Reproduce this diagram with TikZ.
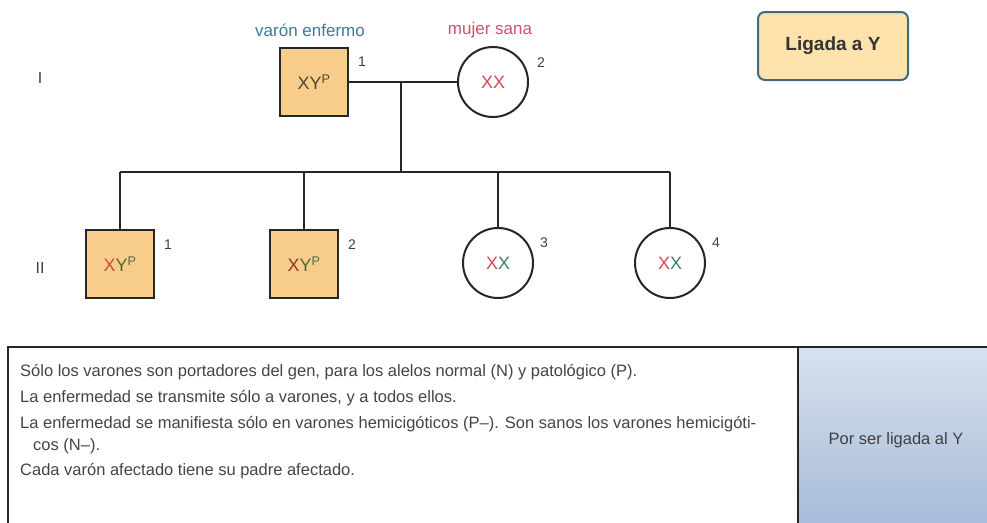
\documentclass[tikz,border=0pt]{standalone}
\usepackage{fontspec}
\setmainfont{Liberation Sans}
\definecolor{sqfill}{HTML}{F8CD8C}
\definecolor{momred}{HTML}{D9475A}
\definecolor{dadcol}{HTML}{4A4A30}
\definecolor{sonX}{HTML}{D04A3A}
\definecolor{sonY}{HTML}{4F6A3A}
\definecolor{dauX}{HTML}{3F7F66}
\definecolor{teal}{HTML}{3D7A9A}
\definecolor{pinklab}{HTML}{D0506A}
\definecolor{boxfill}{HTML}{FDE2AC}
\definecolor{boxborder}{HTML}{3F6A80}
\definecolor{celltop}{HTML}{D8E0ED}
\definecolor{cellbot}{HTML}{A6BCD8}
\definecolor{txt}{HTML}{444444}
\begin{document}
\begin{tikzpicture}[x=1pt,y=-1pt,
  male/.style={draw=black!85,line width=2pt,fill=sqfill,minimum size=68pt,inner sep=0pt,font=\fontsize{18}{18}\selectfont},
  female/.style={draw=black!85,line width=2pt,fill=white,circle,minimum size=70pt,inner sep=0pt,font=\fontsize{18}{18}\selectfont},
  num/.style={font=\fontsize{14}{14}\selectfont,text=black!75},
  gen/.style={font=\fontsize{16}{16}\selectfont,text=black!75},
  ped/.style={line width=1.8pt,draw=black!85},
  line/.style={anchor=west,font=\fontsize{16.5}{16.5}\selectfont,text=txt,inner sep=0pt}]
\useasboundingbox (0,0) rectangle (987,522);
% generation labels
\node[gen] (gI) at (40,78) {I};
\node[gen] (gII) at (40,268) {II};
% generation I
\node[male] (f) at (314,82) {\textcolor{dadcol}{XY$^{\mathrm{P}}$}};
\node[female] (m) at (493,82) {\textcolor{momred}{XX}};
\node[font=\fontsize{17}{17}\selectfont,text=teal] (lf) at (310,30) {varón enfermo};
\node[font=\fontsize{17}{17}\selectfont,text=pinklab] (lm) at (490,30) {mujer sana};
\node[num] (n1) at (362,62) {1};
\node[num] (n2) at (541,63) {2};
\coordinate (mid) at (401,82);
\coordinate (sib) at (401,172);
\coordinate (sl) at (120,172);
\coordinate (sr) at (670,172);
\draw[ped] (f.east) -- (m.west);
\draw[ped] (mid) -- (sib);
\draw[ped] (sl) -- (sr);
% generation II
\node[male] (c1) at (120,264) {\textcolor{sonX}{X}\textcolor{sonY}{Y$^{\mathrm{P}}$}};
\node[male] (c2) at (304,264) {\textcolor{sonX!70!black}{X}\textcolor{sonY}{Y$^{\mathrm{P}}$}};
\node[female] (c3) at (498,263) {\textcolor{momred}{X}\textcolor{dauX}{X}};
\node[female] (c4) at (670,263) {\textcolor{momred}{X}\textcolor{dauX}{X}};
\node[num] (m1) at (168,245) {1};
\node[num] (m2) at (352,245) {2};
\node[num] (m3) at (544,243) {3};
\node[num] (m4) at (716,243) {4};
\coordinate (s1) at (120,172);
\coordinate (s2) at (304,172);
\coordinate (s3) at (498,172);
\coordinate (s4) at (670,172);
\draw[ped] (s1) -- (c1.north);
\draw[ped] (s2) -- (c2.north);
\draw[ped] (s3) -- (c3.north);
\draw[ped] (s4) -- (c4.north);
% type box
\node[draw=boxborder,line width=2pt,fill=boxfill,rounded corners=7pt,minimum width=150pt,minimum height=68pt,font=\bfseries\fontsize{19}{19}\selectfont,text=black!80] (typ) at (833,46) {Ligada a Y};
% bottom table
\shade[top color=celltop,bottom color=cellbot] (798,347) rectangle (990,525);
\draw[line width=2pt,draw=black!85] (8,525) -- (8,347) -- (990,347);
\draw[line width=2pt,draw=black!85] (798,347) -- (798,525);
\node[line] (t1) at (20,372) {Sólo los varones son portadores del gen, para los alelos normal (N) y patológico (P).};
\node[line] (t2) at (20,398) {La enfermedad se transmite sólo a varones, y a todos ellos.};
\node[line] (t3) at (20,424) {La enfermedad se manifiesta sólo en varones hemicigóticos (P--). Son sanos los varones hemicigóti-};
\node[line] (t4) at (33,446) {cos (N--).};
\node[line] (t5) at (20,471) {Cada varón afectado tiene su padre afectado.};
\node[font=\fontsize{16.5}{16.5}\selectfont,text=black!75] (por) at (896,440) {Por ser ligada al Y};
\end{tikzpicture}
\end{document}
